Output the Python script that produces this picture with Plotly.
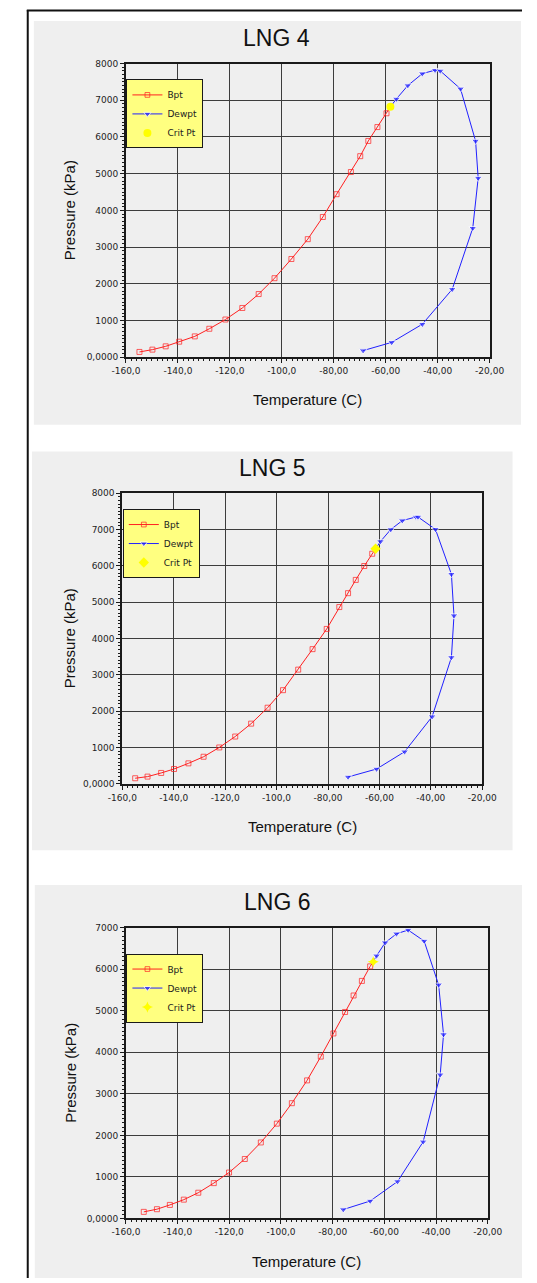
import plotly.graph_objects as go

W, H = 537, 1283

# ---------------- data ----------------
titles = ["LNG 4", "LNG 5", "LNG 6"]

lng4_bpt_t = [-154.8, -149.8, -144.7, -139.5, -133.5, -127.9, -121.7, -115.2, -108.9, -102.8,
              -96.3, -90.0, -84.2, -78.9, -73.4, -69.8, -66.7, -63.2, -59.7]
lng4_bpt_p = [144, 207, 297, 423, 568, 775, 1027, 1342, 1721, 2153,
              2676, 3216, 3820, 4441, 5045, 5477, 5892, 6270, 6645]
lng4_dew_t = [-55.9, -51.5, -45.9, -41.0, -39.0, -31.2, -25.4, -24.4, -26.5, -34.4, -45.9, -57.7, -68.7]
lng4_dew_p = [7035, 7400, 7725, 7820, 7800, 7310, 5890, 4880, 3515, 1850, 900, 405, 180]
lng4_crit_t = [-58.2]
lng4_crit_p = [6820]

lng5_bpt_t = [-155.0, -150.2, -144.9, -139.9, -134.3, -128.4, -122.3, -116.1, -109.9, -103.5,
              -97.5, -91.6, -86.0, -80.5, -75.6, -72.2, -69.2, -65.9, -62.8]
lng5_bpt_p = [155, 200, 301, 410, 565, 747, 1002, 1303, 1658, 2096,
              2579, 3144, 3708, 4264, 4866, 5248, 5613, 5995, 6333]
lng5_dew_t = [-59.6, -55.6, -51.1, -45.8, -45.0, -38.2, -32.0, -31.0, -32.0, -39.5, -50.2, -61.1, -72.2]
lng5_dew_p = [6670, 7000, 7245, 7345, 7345, 7005, 5770, 4630, 3480, 1850, 885, 410, 190]
lng5_crit_t = [-61.5]
lng5_crit_p = [6470]

lng6_bpt_t = [-153.1, -148.0, -143.0, -137.6, -132.0, -126.0, -120.1, -114.0, -107.8, -101.6,
              -95.8, -89.9, -84.6, -79.7, -75.2, -71.9, -68.7, -65.5]
lng6_bpt_p = [159, 223, 326, 453, 620, 851, 1106, 1432, 1830, 2283,
              2776, 3325, 3898, 4455, 4972, 5369, 5720, 6070]
lng6_dew_t = [-63.0, -59.7, -55.3, -50.8, -44.6, -39.0, -37.1, -38.4, -45.0, -54.9, -65.5, -75.9]
lng6_dew_p = [6325, 6640, 6855, 6945, 6680, 5625, 4430, 3460, 1845, 890, 420, 215]
lng6_crit_t = [-64.3]
lng6_crit_p = [6180]

x_tickvals = [-160, -140, -120, -100, -80, -60, -40, -20]
x_ticktext = ["-160,0", "-140,0", "-120,0", "-100,0", "-80,00", "-60,00", "-40,00", "-20,00"]
y_tickvals_8 = [0, 1000, 2000, 3000, 4000, 5000, 6000, 7000, 8000]
y_ticktext_8 = ["0,0000", "1000", "2000", "3000", "4000", "5000", "6000", "7000", "8000"]
y_tickvals_7 = [0, 1000, 2000, 3000, 4000, 5000, 6000, 7000]
y_ticktext_7 = ["0,0000", "1000", "2000", "3000", "4000", "5000", "6000", "7000"]

legend_names = ["Bpt", "Dewpt", "Crit Pt"]

# ---------------- layout geometry (pixels) ----------------
panels = [
    dict(plot=(117.5, 502.7, 59, 355), gray=(20, 536, 16, 423), title_xy=(277, 33),
         yrange=8000, yt=(y_tickvals_8, y_ticktext_8), crit_symbol="circle",
         data=(lng4_bpt_t, lng4_bpt_p, lng4_dew_t, lng4_dew_p, lng4_crit_t, lng4_crit_p),
         legend_top=75),
    dict(plot=(113.7, 494.9, 492, 785), gray=(18, 527, 450, 852), title_xy=(272, 467),
         yrange=8000, yt=(y_tickvals_8, y_ticktext_8), crit_symbol="diamond",
         data=(lng5_bpt_t, lng5_bpt_p, lng5_dew_t, lng5_dew_p, lng5_crit_t, lng5_crit_p),
         legend_top=508),
    dict(plot=(117.5, 500.7, 930, 1223), gray=(21, 537, 887, 1283), title_xy=(277, 904),
         yrange=7000, yt=(y_tickvals_7, y_ticktext_7), crit_symbol="star-diamond",
         data=(lng6_bpt_t, lng6_bpt_p, lng6_dew_t, lng6_dew_p, lng6_crit_t, lng6_crit_p),
         legend_top=956),
]


def px_x(v):
    return v / W


def px_y(v):
    return 1 - v / H


fig = go.Figure()
shapes = []
annotations = []
layout_extra = {}

TICK_FONT = dict(family="DejaVu Sans", size=9, color="#1e1e1e")
GRID = "#3c3c3c"

for i, pnl in enumerate(panels):
    n = i + 1
    xa = "x" if n == 1 else f"x{n}"
    ya = "y" if n == 1 else f"y{n}"
    lg = "legend" if n == 1 else f"legend{n}"
    bt, bp, dt, dp, ct, cp = pnl["data"]

    # boiling curve joined to the critical point
    fig.add_trace(go.Scatter(
        x=bt + ct, y=bp + cp, mode="lines+markers", name=legend_names[0],
        line=dict(color="#ff2020", width=1),
        marker=dict(symbol="square-open", size=[5] * len(bt) + [0], color="#ff2020",
                    line=dict(width=1)),
        xaxis=xa, yaxis=ya, legend=lg))
    # dew curve starting at the critical point
    fig.add_trace(go.Scatter(
        x=ct + dt, y=cp + dp, mode="lines+markers", name=legend_names[1],
        line=dict(color="#2020ff", width=1),
        marker=dict(symbol="triangle-down", size=[0] + [7] * len(dt), color="#2020ff"),
        xaxis=xa, yaxis=ya, legend=lg))
    fig.add_trace(go.Scatter(
        x=ct, y=cp, mode="markers", name=legend_names[2],
        marker=dict(symbol=pnl["crit_symbol"], size=8, color="#ffff00"),
        xaxis=xa, yaxis=ya, legend=lg))

    x0, x1, y0, y1 = pnl["plot"]
    axis_common = dict(showline=True, linecolor="#1a1a1a", linewidth=2, mirror=True,
                       showgrid=True, gridcolor=GRID, gridwidth=1, zeroline=False,
                       ticks="outside", ticklen=4, tickcolor="#1a1a1a", tickwidth=1,
                       tickfont=TICK_FONT, fixedrange=True)
    layout_extra["xaxis" if n == 1 else f"xaxis{n}"] = dict(
        domain=[px_x(x0), px_x(x1)], anchor=ya, range=[-160, -20],
        tickmode="array", tickvals=x_tickvals, ticktext=x_ticktext,
        minor=dict(dtick=2, ticks="outside", ticklen=2, tickcolor="#1a1a1a", showgrid=False),
        **axis_common)
    layout_extra["yaxis" if n == 1 else f"yaxis{n}"] = dict(
        domain=[px_y(y1), px_y(y0)], anchor=xa, range=[0, pnl["yrange"]],
        tickmode="array", tickvals=pnl["yt"][0], ticktext=pnl["yt"][1],
        minor=dict(dtick=100, ticks="outside", ticklen=2, tickcolor="#1a1a1a", showgrid=False),
        **axis_common)
    layout_extra[lg] = dict(
        x=px_x(x0 + 0.5), y=px_y(pnl["legend_top"]), xanchor="left", yanchor="top",
        bgcolor="#ffff80", bordercolor="#1a1a1a", borderwidth=1,
        font=dict(family="DejaVu Sans", size=9, color="#222222"),
        entrywidth=50, itemwidth=30, tracegroupgap=0)

    gx0, gx1, gy0, gy1 = pnl["gray"]
    shapes.append(dict(type="rect", xref="paper", yref="paper", layer="below",
                       x0=px_x(gx0), x1=px_x(gx1), y0=px_y(gy1), y1=px_y(gy0),
                       fillcolor="#efefef", line=dict(width=0)))

    tx, ty = pnl["title_xy"]
    annotations.append(dict(text=titles[i], x=px_x(tx), y=px_y(ty), xref="paper", yref="paper",
                            showarrow=False, xanchor="center", yanchor="middle",
                            font=dict(family="Liberation Sans", size=23, color="#111111")))
    annotations.append(dict(text="Temperature (C)", x=px_x((x0 + x1) / 2), y=px_y(y1 + 43),
                            xref="paper", yref="paper", showarrow=False,
                            xanchor="center", yanchor="middle",
                            font=dict(family="Liberation Sans", size=15, color="#111111")))
    annotations.append(dict(text="Pressure (kPa)", x=px_x(58), y=px_y((y0 + y1) / 2),
                            xref="paper", yref="paper", showarrow=False, textangle=-90,
                            xanchor="center", yanchor="middle",
                            font=dict(family="Liberation Sans", size=15, color="#111111")))

# outer frame lines (left and top)
shapes.append(dict(type="line", xref="paper", yref="paper", x0=px_x(13.5), x1=px_x(13.5),
                   y0=0, y1=px_y(5), line=dict(color="#111111", width=2)))
shapes.append(dict(type="line", xref="paper", yref="paper", x0=px_x(12.5), x1=1,
                   y0=px_y(5.5), y1=px_y(5.5), line=dict(color="#111111", width=2)))

fig.update_layout(
    width=W, height=H, margin=dict(l=0, r=0, t=0, b=0),
    paper_bgcolor="white", plot_bgcolor="#efefef",
    showlegend=True, shapes=shapes, annotations=annotations,
    **layout_extra)

fig.write_html("out.html", config={"displayModeBar": False},
               post_script="document.body.style.margin='0';document.body.style.overflow='hidden';")
